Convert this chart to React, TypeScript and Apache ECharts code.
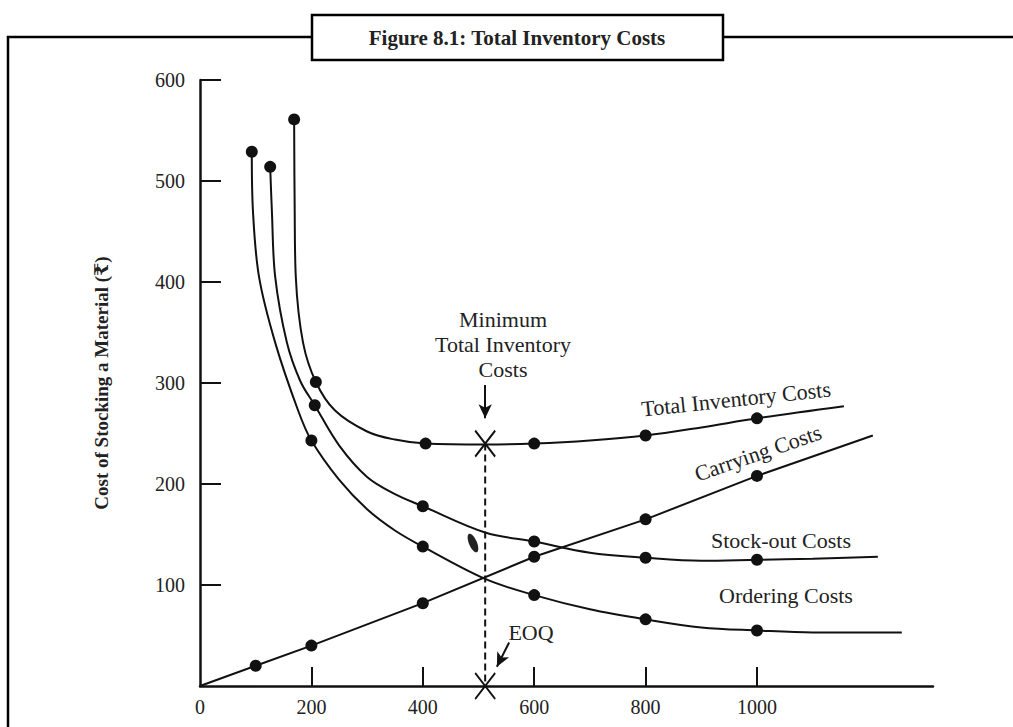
import React, { useEffect, useRef } from "react";
import * as echarts from "echarts";

// ---- data ----
const xLabelValues = [0, 200, 400, 600, 800, 1000];
const xTickValues = [200, 400, 600, 800, 1000];
const yTickValues = [100, 200, 300, 400, 500, 600];

const orderingCurve = [
  [93, 529], [95, 471], [106, 405], [135, 340], [176, 273], [200, 243], [250, 204],
  [300, 175], [350, 154], [400, 138], [512, 106], [600, 90], [700, 76], [800, 66], [900, 58],
  [1000, 55], [1100, 53], [1260, 53],
];
const orderingDots = [[93, 529], [200, 243], [400, 138], [600, 90], [800, 66], [1000, 55]];

const stockoutCurve = [
  [126, 514], [129, 471], [135, 405], [156, 340], [180, 302], [206, 278], [250, 238],
  [300, 207], [350, 190], [400, 178], [512, 152], [600, 143], [700, 132], [800, 127], [900, 124],
  [1000, 125], [1100, 126], [1217, 128],
];
const stockoutDots = [[126, 514], [206, 278], [400, 178], [600, 143], [800, 127], [1000, 125]];

const totalCurve = [
  [169, 561], [170, 471], [172, 405], [185, 340], [208, 301], [242, 273], [300, 252],
  [350, 244], [405, 240], [512, 239], [600, 240], [700, 243], [800, 248], [900, 256],
  [1000, 265], [1156, 277],
];
const totalDots = [[169, 561], [208, 301], [405, 240], [600, 240], [800, 248], [1000, 265]];

const carryingLine = [[0, 0], [100, 20], [200, 40], [400, 82], [600, 128], [800, 165], [1000, 208], [1208, 248]];
const carryingDots = [[100, 20], [200, 40], [400, 82], [600, 128], [800, 165], [1000, 208]];

const eoq = 512;
const minTotal = 240;
const crossPoints = [[eoq, minTotal], [eoq, 0]];
const eoqDashed = [[eoq, minTotal], [eoq, 0]];
const minArrow = [[eoq, 298], [eoq, 265]];
const eoqArrow = [[555, 43], [533, 19]];

const SERIF = "'Liberation Serif', 'DejaVu Serif', 'Noto Sans', serif";
const INK = "#111";

export default function App() {
  const ref = useRef<HTMLDivElement>(null);

  useEffect(() => {
    if (!ref.current) return;
    const chart = echarts.init(ref.current, null, { renderer: "svg" });

    const curve = (name: string, data: number[][], smooth: boolean) => ({
      name,
      type: "line",
      data,
      smooth: smooth ? 0.35 : false,
      showSymbol: false,
      symbol: "none",
      lineStyle: { color: INK, width: 2 },
      silent: true,
      z: 3,
    });
    const dots = (name: string, data: number[][]) => ({
      name,
      type: "scatter",
      data,
      symbol: "circle",
      symbolSize: 12,
      itemStyle: { color: INK, opacity: 1 },
      silent: true,
      z: 4,
    });
    const text = (t: string, x: number, y: number, size: number, rotDeg = 0, extra: any = {}) => ({
      type: "text",
      x,
      y,
      rotation: (rotDeg * Math.PI) / 180,
      z: 10,
      style: {
        text: t,
        fill: "#222",
        font: `${extra.weight || "normal"} ${size}px ${SERIF}`,
        textAlign: "center",
        textVerticalAlign: "middle",
        align: "center",
        verticalAlign: "middle",
        lineHeight: extra.lineHeight,
      },
    });

    chart.setOption({
      animation: false,
      backgroundColor: "#ffffff",
      grid: { left: 200, top: 80, right: 80, bottom: 41, containLabel: false },
      xAxis: {
        type: "value",
        min: 0,
        max: 1316,
        splitLine: { show: false },
        axisLine: { show: true, onZero: false, lineStyle: { color: INK, width: 2.5 } },
        axisTick: { show: true, inside: true, length: 19, customValues: xTickValues, lineStyle: { color: INK, width: 2 } },
        axisLabel: {
          customValues: xLabelValues,
          formatter: (v: number) => String(v),
          color: "#222",
          fontSize: 20,
          fontFamily: SERIF,
          margin: 11,
        },
      },
      yAxis: {
        type: "value",
        min: 0,
        max: 600,
        interval: 100,
        splitLine: { show: false },
        axisLine: { show: true, onZero: false, lineStyle: { color: INK, width: 2.5 } },
        axisTick: { show: true, inside: true, length: 21, customValues: yTickValues, lineStyle: { color: INK, width: 2 } },
        axisLabel: {
          customValues: yTickValues,
          formatter: (v: number) => String(v),
          color: "#222",
          fontSize: 20,
          fontFamily: SERIF,
          margin: 15,
        },
      },
      series: [
        curve("Ordering Costs", orderingCurve, true),
        dots("Ordering dots", orderingDots),
        curve("Stock-out Costs", stockoutCurve, true),
        dots("Stock-out dots", stockoutDots),
        curve("Total Inventory Costs", totalCurve, true),
        dots("Total dots", totalDots),
        curve("Carrying Costs", carryingLine, false),
        dots("Carrying dots", carryingDots),
        {
          name: "EOQ line",
          type: "line",
          data: eoqDashed,
          symbol: "none",
          lineStyle: { color: INK, width: 2, type: [7, 4] },
          silent: true,
          z: 2,
          markLine: {
            silent: true,
            symbol: ["none", "arrow"],
            symbolSize: [10, 14],
            label: { show: false },
            lineStyle: { color: INK, width: 2, type: "solid" },
            data: [
              [{ coord: minArrow[0] }, { coord: minArrow[1] }],
              [{ coord: eoqArrow[0] }, { coord: eoqArrow[1] }],
            ],
          },
        },
        {
          name: "cross",
          type: "scatter",
          data: crossPoints,
          symbol: "path://M0 0L10 13M10 0L0 13",
          symbolSize: [20, 26],
          itemStyle: { color: "none", borderColor: INK, borderWidth: 2, opacity: 1 },
          silent: true,
          z: 5,
        },
      ],
      graphic: [
        {
          type: "polyline",
          shape: { points: [[312, 37], [8, 37], [8, 727]] },
          style: { stroke: "#000", lineWidth: 2.5, fill: "none" },
          z: 10,
        },
        {
          type: "line",
          shape: { x1: 723, y1: 37, x2: 1013, y2: 37 },
          style: { stroke: "#000", lineWidth: 2.5 },
          z: 10,
        },
        {
          type: "rect",
          shape: { x: 312, y: 15, width: 411, height: 45 },
          style: { stroke: "#000", lineWidth: 2.5, fill: "#fff" },
          z: 10,
        },
        { ...text("Figure 8.1: Total Inventory Costs", 517, 38, 21, 0, { weight: "bold" }), z: 11 },
        text("Cost of Stocking a Material (\u20B9)", 101, 383, 19, 90, { weight: "bold" }),
        text("Minimum\nTotal Inventory\nCosts", 503, 344, 22, 0, { lineHeight: 25 }),
        text("Total Inventory Costs", 736, 399, 22, 6),
        text("Carrying Costs", 758, 453, 22, 19),
        text("Stock-out Costs", 781, 540, 22),
        text("Ordering Costs", 786, 595, 22),
        text("EOQ", 531, 632, 22),
        {
          type: "ellipse",
          shape: { cx: 0, cy: 0, rx: 4, ry: 10 },
          x: 473,
          y: 543,
          rotation: 0.4,
          style: { fill: "#222" },
          z: 10,
        },
      ],
    });

    return () => chart.dispose();
  }, []);

  return (
    <div
      ref={ref}
      style={{ position: "fixed", left: 0, top: 0, width: 1013, height: 727, background: "#fff" }}
    />
  );
}
